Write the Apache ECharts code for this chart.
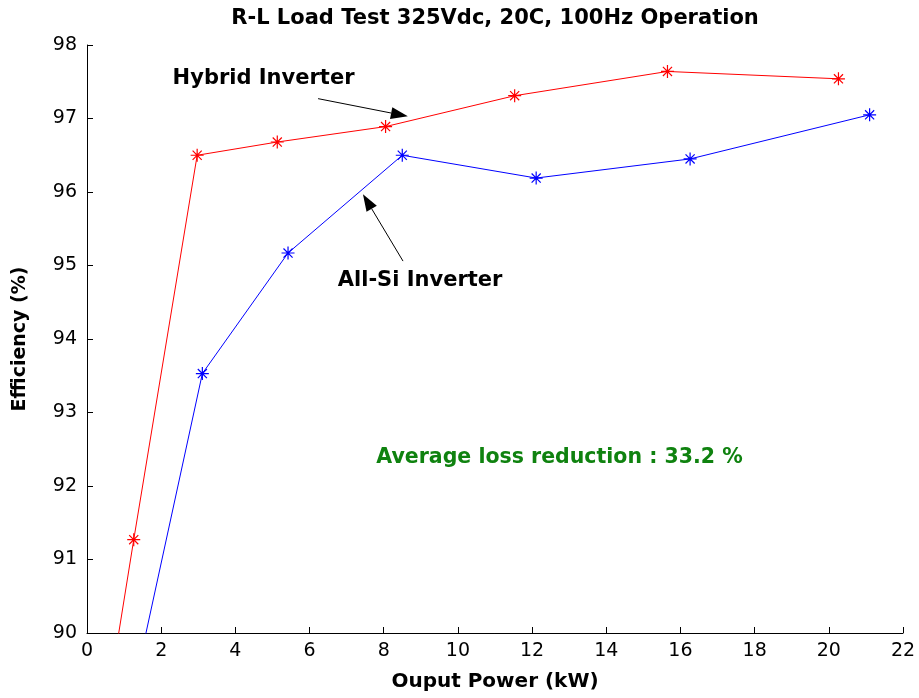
<!DOCTYPE html>
<html>
<head>
<meta charset="utf-8">
<script src="https://cdn.jsdelivr.net/npm/echarts@6/dist/echarts.min.js"></script>
<style>
  html, body { margin: 0; padding: 0; background: #fff; }
  #chart { width: 919px; height: 698px; }
</style>
</head>
<body>
<div id="chart"></div>
<script>
// Output power (kW) and efficiency (%) for each inverter
const hybridPower = [0.55, 1.26, 2.97, 5.13, 8.05, 11.53, 15.65, 20.26];
const hybridEff   = [89.04, 91.27, 96.50, 96.68, 96.89, 97.31, 97.64, 97.54];
const allSiPower  = [1.0, 3.11, 5.42, 8.50, 12.11, 16.26, 21.10];
const allSiEff    = [88.63, 93.53, 95.17, 96.50, 96.19, 96.45, 97.05];

const xTicks = [0, 2, 4, 6, 8, 10, 12, 14, 16, 18, 20, 22];
const yTicks = [90, 91, 92, 93, 94, 95, 96, 97, 98];

const titleText = 'R-L Load Test 325Vdc, 20C, 100Hz Operation';
const xName = 'Ouput Power (kW)';
const yName = 'Efficiency (%)';
const hybridLabel = 'Hybrid Inverter';
const allSiLabel = 'All-Si Inverter';
const noteText = 'Average loss reduction : 33.2 %';

const FONT = '"DejaVu Sans", Verdana, sans-serif';
const ASTERISK = 'path://M0,-10L0,10M-10,0L10,0M-7,-7L7,7M-7,7L7,-7';

function zip(xs, ys) { return xs.map((x, i) => [x, ys[i]]); }

function seriesOf(name, xs, ys, color) {
  return {
    name: name,
    type: 'line',
    data: zip(xs, ys),
    clip: true,
    symbol: ASTERISK,
    symbolSize: 13,
    showAllSymbol: true,
    lineStyle: { color: color, width: 1 },
    itemStyle: { color: 'rgba(0,0,0,0)', borderColor: color, borderWidth: 1.2 },
    emphasis: { disabled: true },
    animation: false
  };
}

const chart = echarts.init(document.getElementById('chart'), null, { renderer: 'canvas' });

chart.setOption({
  backgroundColor: '#fff',
  animation: false,
  grid: { left: 87, right: 16, top: 45, bottom: 65, containLabel: false },
  xAxis: {
    type: 'value',
    min: xTicks[0],
    max: xTicks[xTicks.length - 1],
    interval: 2,
    name: xName,
    nameLocation: 'middle',
    nameGap: 39,
    nameTextStyle: { fontFamily: FONT, fontWeight: 'bold', fontSize: 20, color: '#000' },
    axisLine: { show: true, onZero: false, lineStyle: { color: '#000', width: 1 } },
    axisTick: { show: true, inside: true, length: 6, lineStyle: { color: '#000' } },
    axisLabel: { fontFamily: FONT, fontSize: 19, color: '#000', margin: 9 },
    splitLine: { show: false }
  },
  yAxis: {
    type: 'value',
    min: yTicks[0],
    max: yTicks[yTicks.length - 1],
    interval: 1,
    name: yName,
    nameLocation: 'middle',
    nameGap: 57,
    nameTextStyle: { fontFamily: FONT, fontWeight: 'bold', fontSize: 19, color: '#000' },
    axisLine: { show: true, onZero: false, lineStyle: { color: '#000', width: 1 } },
    axisTick: { show: true, inside: true, length: 6, lineStyle: { color: '#000' } },
    axisLabel: { fontFamily: FONT, fontSize: 19, color: '#000', margin: 10 },
    splitLine: { show: false }
  },
  series: [
    seriesOf(hybridLabel, hybridPower, hybridEff, '#ff0000'),
    seriesOf(allSiLabel, allSiPower, allSiEff, '#0000ff')
  ]
});

// Annotations placed in data units, converted to pixels
function px(pt) { return chart.convertToPixel({ gridIndex: 0 }, pt); }

function arrow(from, to) {
  const a = px(from), b = px(to);
  const ang = Math.atan2(b[1] - a[1], b[0] - a[0]);
  const L = 17, W = 6;
  const bx = b[0] - L * Math.cos(ang), by = b[1] - L * Math.sin(ang);
  const nx = -Math.sin(ang), ny = Math.cos(ang);
  return [
    { type: 'line', shape: { x1: a[0], y1: a[1], x2: bx, y2: by }, style: { stroke: '#000', lineWidth: 1 }, silent: true },
    { type: 'polygon', shape: { points: [[b[0], b[1]], [bx + nx * W, by + ny * W], [bx - nx * W, by - ny * W]] }, style: { fill: '#000' }, silent: true }
  ];
}

function label(text, at, color, size) {
  const p = px(at);
  return {
    type: 'text', x: p[0], y: p[1], silent: true,
    style: { text: text, fill: color, font: 'bold ' + size + 'px ' + FONT, align: 'center', verticalAlign: 'middle' }
  };
}

// Title centred over the plotting area rather than the whole canvas
const rect = chart.getModel().getComponent('grid', 0).coordinateSystem.getRect();
const titleX = rect.x + rect.width / 2;

chart.setOption({
  graphic: [].concat(
    {
      type: 'text', x: titleX, y: 19, silent: true,
      style: { text: titleText, fill: '#000', font: 'bold 21px ' + FONT, align: 'center', verticalAlign: 'middle' }
    },
    label(hybridLabel, [4.76, 97.55], '#000', 21),
    arrow([6.23, 97.27], [8.65, 97.03]),
    label(allSiLabel, [8.98, 94.80], '#000', 21),
    arrow([8.52, 95.06], [7.44, 95.97]),
    label(noteText, [12.74, 92.38], '#0f820f', 20.5)
  )
});
</script>
</body>
</html>
